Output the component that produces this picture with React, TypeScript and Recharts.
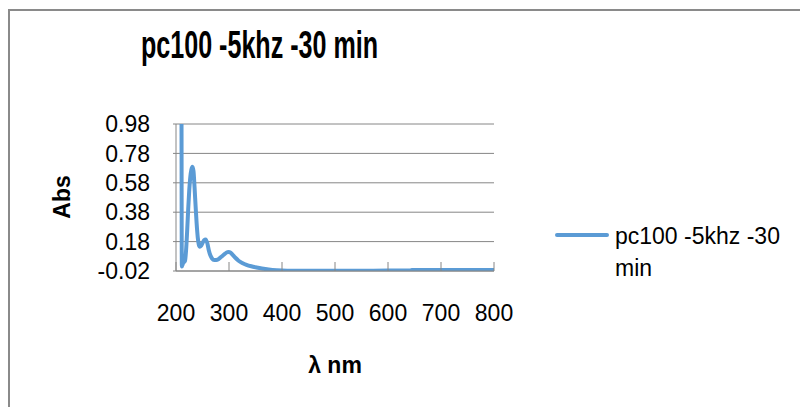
import { LineChart, Line, XAxis, YAxis, CartesianGrid } from 'recharts'

const seriesName = 'pc100 -5khz -30 min'

const wavelengths = [
  210, 211, 213, 215, 217, 219, 221, 223, 225, 227, 229, 231, 233, 235, 237, 239, 241, 243,
  245, 247, 250, 253, 256, 259, 262, 265, 268, 272, 276, 280, 285, 290, 295, 299, 303, 307,
  312, 318, 325, 333, 342, 352, 362, 375, 390, 410, 450, 500, 550, 600, 640, 645, 700, 750, 800,
]

const absorbance = [
  2.5, 0.01, 0.03, 0.04, 0.05, 0.12, 0.25, 0.4, 0.53, 0.62, 0.67, 0.69, 0.66, 0.55, 0.42, 0.3,
  0.21, 0.16, 0.145, 0.15, 0.17, 0.19, 0.195, 0.17, 0.12, 0.085, 0.065, 0.055, 0.055, 0.06,
  0.075, 0.09, 0.105, 0.11, 0.105, 0.09, 0.07, 0.05, 0.035, 0.022, 0.012, 0.004, -0.003,
  -0.01, -0.015, -0.018, -0.019, -0.019, -0.018, -0.017, -0.017, -0.014, -0.014, -0.013, -0.013,
]

const xTicks = [200, 300, 400, 500, 600, 700, 800]
const yTicks = [-0.02, 0.18, 0.38, 0.58, 0.78, 0.98]

const data = wavelengths.map((w, i) => ({ nm: w, abs: absorbance[i] }))

const FONT = '"Liberation Sans", Arial, sans-serif'
const BLUE = '#5B9BD5'
const GRAY = '#868686'

function XTick({ x, y, payload }: any) {
  return (
    <g>
      <line x1={x} y1={y} x2={x} y2={y - 9} stroke={GRAY} strokeWidth={1} />
      <text x={x} y={y + 34} dy="0.71em" textAnchor="middle" fill="#000" fontSize={23} fontFamily={FONT}>
        {payload.value}
      </text>
    </g>
  )
}

export default function App() {
  return (
    <div style={{ position: 'absolute', left: 0, top: 0, width: 800, height: 407, background: '#fff', overflow: 'hidden' }}>
      <div
        style={{
          position: 'absolute',
          left: 8,
          top: 9,
          width: 820,
          height: 420,
          borderLeft: '2px solid #8a8a8a',
          borderTop: '2px solid #8a8a8a',
        }}
      />
      <svg style={{ position: 'absolute', left: 0, top: 0 }} width={800} height={407}>
        <text x={141} y={58} textLength={237} lengthAdjust="spacingAndGlyphs" fontSize={38} fontWeight="bold" fontFamily={FONT} fill="#000">
          {seriesName}
        </text>
        <text
          x={0}
          y={0}
          transform="translate(70 197) rotate(-90)"
          textAnchor="middle"
          fontSize={23}
          fontWeight="bold"
          fontFamily={FONT}
          fill="#000"
        >
          Abs
        </text>
        <text x={335} y={373} textAnchor="middle" fontSize={23} fontWeight="bold" fontFamily={FONT} fill="#000">
          λ nm
        </text>
      </svg>
      <div style={{ position: 'absolute', left: 0, top: 0 }}>
        <LineChart width={800} height={407} data={data} margin={{ top: 124, right: 306, bottom: 0, left: 0 }}>
          <CartesianGrid vertical={false} stroke={GRAY} strokeWidth={1} />
          <XAxis
            dataKey="nm"
            type="number"
            domain={[200, 800]}
            ticks={xTicks}
            interval={0}
            height={136}
            tickSize={0}
            tickMargin={0}
            tickLine={false}
            stroke={GRAY}
            tick={<XTick />}
          />
          <YAxis
            type="number"
            domain={[-0.02, 0.98]}
            ticks={yTicks}
            interval={0}
            allowDataOverflow
            width={176}
            tickSize={3}
            tickMargin={23}
            stroke={GRAY}
            tick={{ fill: '#000', fontSize: 23, fontFamily: FONT }}
            tickFormatter={(v: number) => v.toFixed(2)}
          />
          <Line
            type="monotone"
            dataKey="abs"
            stroke={BLUE}
            strokeWidth={4}
            dot={false}
            isAnimationActive={false}
          />
        </LineChart>
      </div>
      <div style={{ position: 'absolute', left: 555, top: 233, width: 54, height: 4, background: BLUE, borderRadius: 2 }} />
      <div
        style={{
          position: 'absolute',
          left: 615,
          top: 220,
          width: 180,
          fontSize: 23,
          lineHeight: '32px',
          fontFamily: FONT,
          color: '#000',
        }}
      >
        {seriesName}
      </div>
    </div>
  )
}
